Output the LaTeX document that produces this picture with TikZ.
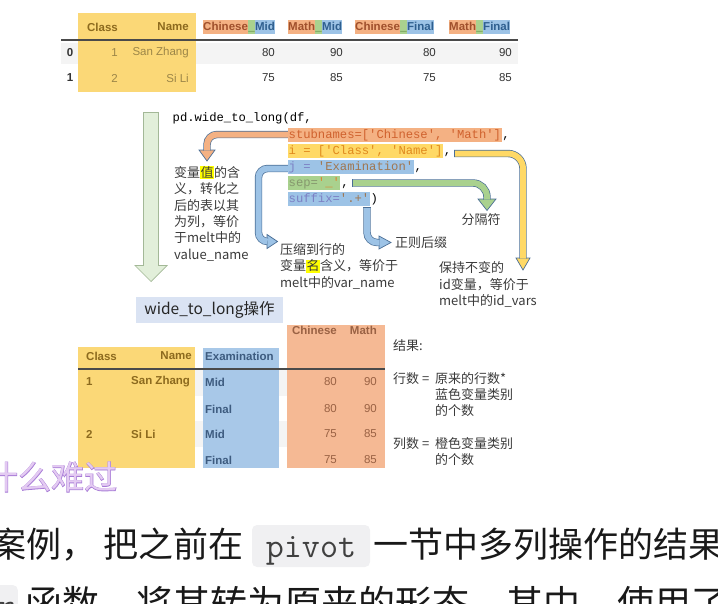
\documentclass[tikz,border=0pt]{standalone}
\usepackage{fontspec}
\setmainfont{Liberation Sans}
\setmonofont{Liberation Mono}
\newfontfamily\cjk{Noto Sans CJK SC}
\newfontfamily\cjkstroke{Noto Sans CJK SC}[FakeBold=2.5]
\usetikzlibrary{positioning}

\definecolor{hlorange}{HTML}{F4B183}
\definecolor{hlyellow}{HTML}{FFD966}
\definecolor{hlblue}{HTML}{9DC3E6}
\definecolor{hlgreen}{HTML}{A9D18E}
\definecolor{arrowline}{HTML}{4A6E96}
\definecolor{biggreen}{HTML}{E2EFDA}
\definecolor{biggreenline}{HTML}{A3B897}
\definecolor{celltext}{HTML}{333333}
\definecolor{rowgray}{HTML}{F4F4F4}
\definecolor{headline}{HTML}{4A4A4A}
\definecolor{opbox}{HTML}{DAE3F3}
\definecolor{marker}{HTML}{FFFF00}
\definecolor{notegray}{HTML}{3A3A3A}
\definecolor{tabyellow}{HTML}{FBD877}
\definecolor{tabblue}{HTML}{A8C8E8}
\definecolor{taborange}{HTML}{F5B994}
\definecolor{ontyellow}{HTML}{8C6A1E}
\definecolor{ontyellowlt}{HTML}{9C8648}
\definecolor{ontblue}{HTML}{3E5C80}
\definecolor{ontorange}{HTML}{9A6244}
\definecolor{segorange}{HTML}{A0502C}
\definecolor{seggreen}{HTML}{4E7A34}
\definecolor{segblue}{HTML}{2F5F8F}
\definecolor{stubtext}{HTML}{D0622E}
\definecolor{itext}{HTML}{E08A1E}
\definecolor{jkey}{HTML}{7C80C4}
\definecolor{jstr}{HTML}{A07650}
\definecolor{sepkey}{HTML}{86986E}
\definecolor{sepstr}{HTML}{DE8430}
\definecolor{wordart}{HTML}{E4CBF2}
\definecolor{wordartline}{HTML}{A77BD6}
\definecolor{codebg}{HTML}{F0F0F2}

\newcommand{\marked}[1]{{\setlength{\fboxsep}{0.5pt}\colorbox{marker}{#1}}}

\begin{document}
\begin{tikzpicture}[x=1pt, y=-1pt,
  cell/.style={font=\fontsize{11.5}{13}\selectfont, inner sep=0pt, text=celltext},
  headcell/.style={cell, font=\bfseries\fontsize{11.5}{13}\selectfont},
  seg/.style={headcell, inner xsep=0pt, inner ysep=1pt, text height=8.6pt, text depth=2.6pt, anchor=west},
  code/.style={font=\ttfamily\fontsize{12.2}{14}\selectfont, inner xsep=0.5pt, inner ysep=1pt,
    text height=9pt, text depth=3pt, anchor=west},
  note/.style={font=\cjk\fontsize{13}{16.3}\selectfont, align=left, inner sep=0pt, text=notegray},
  shaft/.style={draw=arrowline, line width=0.7pt, double=#1, double distance=6pt},
  head/.style={fill=#1, draw=arrowline, line width=0.7pt},
  para/.style={font=\cjk\fontsize{35}{40}\selectfont, inner sep=0pt, text=black!90},
  inline/.style={fill=codebg, rounded corners=5pt, inner ysep=0pt, text height=32pt, text depth=10pt,
    font=\fontfamily{lmtt}\selectfont\fontsize{35}{38}\selectfont, text=black!75}]

\useasboundingbox (0,0) rectangle (718,603);
\clip (0,0) rectangle (718,603);

% wide table
\fill[rowgray] (61,43) rectangle (518,64);
\fill[tabyellow] (78,13) rectangle (196,92);
\draw[line width=1.3pt, headline] (61,40) -- (518,40);

\node[headcell, text=ontyellow, anchor=east] (wclass) at (118,27) {Class};
\node[headcell, text=ontyellow, anchor=east] (wname) at (189,27) {Name};

\node[seg, fill=hlorange, text=segorange] (cmA) at (203,27) {Chinese};
\node[seg, fill=hlgreen, text=seggreen] (cmB) at (cmA.east) {\_};
\node[seg, fill=hlblue, text=segblue] (cmC) at (cmB.east) {Mid};

\node[seg, fill=hlorange, text=segorange] (mmA) at (288,27) {Math};
\node[seg, fill=hlgreen, text=seggreen] (mmB) at (mmA.east) {\_};
\node[seg, fill=hlblue, text=segblue] (mmC) at (mmB.east) {Mid};

\node[seg, fill=hlorange, text=segorange] (cfA) at (355,27) {Chinese};
\node[seg, fill=hlgreen, text=seggreen] (cfB) at (cfA.east) {\_};
\node[seg, fill=hlblue, text=segblue] (cfC) at (cfB.east) {Final};

\node[seg, fill=hlorange, text=segorange] (mfA) at (449,27) {Math};
\node[seg, fill=hlgreen, text=seggreen] (mfB) at (mfA.east) {\_};
\node[seg, fill=hlblue, text=segblue] (mfC) at (mfB.east) {Final};

\node[headcell] (idx0) at (70,53) {0};
\node[headcell] (idx1) at (70,78) {1};
\node[cell, text=ontyellowlt, anchor=east] (cls0) at (118,53) {1};
\node[cell, text=ontyellowlt, anchor=east] (cls1) at (118,78) {2};
\node[cell, text=ontyellowlt, anchor=east] (nam0) at (189,53) {San Zhang};
\node[cell, text=ontyellowlt, anchor=east] (nam1) at (189,78) {Si Li};
\foreach \col/\a/\b in {275/80/75, 343/90/85, 436/80/75, 512/90/85} {
  \node[cell, anchor=east] (w0\col) at (\col,53) {\a};
  \node[cell, anchor=east] (w1\col) at (\col,78) {\b};
}

% block arrows
\filldraw[head=biggreen, draw=biggreenline] (135,265.5) -- (151,281.5) -- (167,265.5) -- cycle;
\draw[shaft=biggreen, draw=biggreenline, double distance=14pt] (151,112) -- (151,266);
\draw[biggreenline, line width=0.7pt] (143.3,112) -- (158.7,112);

\filldraw[head=hlorange] (199,150) -- (207,161) -- (215,150) -- cycle;
\draw[shaft=hlorange, rounded corners=10pt] (288,134.5) -- (207,134.5) -- (207,150.5);

\filldraw[head=hlyellow] (516,258) -- (523,270) -- (530,258) -- cycle;
\draw[shaft=hlyellow, rounded corners=15pt] (454,153.5) -- (523,153.5) -- (523,258.5);
\draw[arrowline, line width=0.7pt] (454,149.8) -- (454,157.2);

\filldraw[head=hlblue] (267,234.5) -- (277.5,241.5) -- (267,248.5) -- cycle;
\draw[shaft=hlblue, rounded corners=9pt] (288,168.5) -- (258.5,168.5) -- (258.5,241.5) -- (267.5,241.5);

\filldraw[head=hlgreen] (478,199) -- (487,210.5) -- (496,199) -- cycle;
\draw[shaft=hlgreen, rounded corners=14pt] (352,183) -- (487,183) -- (487,199.5);
\draw[arrowline, line width=0.7pt] (352,179.3) -- (352,186.7);

\filldraw[head=hlblue] (379,236) -- (391,242.5) -- (379,249) -- cycle;
\draw[shaft=hlblue, rounded corners=10pt] (367,207) -- (367,242.5) -- (379.5,242.5);
\draw[arrowline, line width=0.7pt] (363.3,207) -- (370.7,207);

% call
\node[code] (call) at (172,118) {pd.wide\_to\_long(df,};
\node[code, fill=hlorange] (stub) at (288,135) {\textcolor{stubtext}{stubnames=['Chinese', 'Math']}};
\node[code] (stubc) at (stub.east) {,};
\node[code, fill=hlyellow] (ids) at (288,151) {\textcolor{itext}{i = ['Class', 'Name']}};
\node[code] (idsc) at (ids.east) {,};
\node[code, fill=hlblue] (jcol) at (288,167) {\textcolor{jkey}{j = }\textcolor{jstr}{'Examination'}};
\node[code] (jcolc) at (jcol.east) {,};
\node[code, fill=hlgreen] (sep) at (288,183) {\textcolor{sepkey}{sep=}\textcolor{sepstr}{'\_'}};
\node[code] (sepc) at (sep.east) {,};
\node[code, fill=hlblue] (suf) at (288,199) {\textcolor{jkey}{suffix=}\textcolor{jstr}{'.+'}};
\node[code] (sufc) at (suf.east) {)};

% notes
\node[note, anchor=north west] (valuenote) at (174,166)
  {变量\marked{值}的含\\义，转化之\\后的表以其\\为列，等价\\于melt中的\\value\_name};
\node[note, anchor=north west] (varnote) at (280,243.5)
  {压缩到行的\\变量\marked{名}含义，等价于\\melt中的var\_name};
\node[note, anchor=west] (sufnote) at (395,243) {正则后缀};
\node[note] (sepnote) at (481,220) {分隔符};
\node[note, anchor=north west] (idnote) at (439,261.5)
  {保持不变的\\id变量，等价于\\melt中的id\_vars};

\node[fill=opbox, minimum width=147pt, minimum height=26pt, inner sep=0pt,
  font=\cjk\fontsize{15.5}{17}\selectfont, text=black!85] (op) at (209.5,310) {wide\_to\_long操作};

% long table
\fill[rowgray] (78,370) rectangle (385,396);
\fill[rowgray] (78,421) rectangle (385,447);
\fill[tabyellow] (78,347) rectangle (195,468);
\fill[tabblue] (203,348) rectangle (279,468);
\fill[taborange] (287,325) rectangle (385,468);
\draw[line width=1.2pt, headline] (78,369) -- (385,369);

\node[headcell, text=ontyellow, anchor=west] (lclass) at (86,356) {Class};
\node[headcell, text=ontyellow, anchor=east] (lname) at (192,356) {Name};
\node[headcell, text=ontblue, anchor=west] (lexam) at (205,356) {Examination};
\node[headcell, text=ontorange, anchor=east] (lchi) at (337,330) {Chinese};
\node[headcell, text=ontorange, anchor=east] (lmath) at (377,330) {Math};

\node[headcell, text=ontyellow, anchor=west] (lc1) at (86,382) {1};
\node[headcell, text=ontyellow, anchor=west] (ln1) at (131,382) {San Zhang};
\node[headcell, text=ontyellow, anchor=west] (lc2) at (86,434) {2};
\node[headcell, text=ontyellow, anchor=west] (ln2) at (131,434) {Si Li};
\foreach \y/\ex/\c/\m in {382/Mid/80/90, 409/Final/80/90, 434/Mid/75/85, 460/Final/75/85} {
  \node[headcell, text=ontblue, anchor=west] (le\y) at (205,\y) {\ex};
  \node[cell, text=ontorange, anchor=east] (lv\y) at (337,\y) {\c};
  \node[cell, text=ontorange, anchor=east] (lm\y) at (377,\y) {\m};
}

% result notes
\node[note, anchor=west] (res) at (393,346) {结果:};
\node[note, anchor=west] (rowsA) at (393,379) {行数 =};
\node[note, anchor=north west] (rowsB) at (435,372) {原来的行数*\\蓝色变量类别\\的个数};
\node[note, anchor=west] (colsA) at (393,444) {列数 =};
\node[note, anchor=north west] (colsB) at (435,437) {橙色变量类别\\的个数};

% page text below
\node[font=\cjkstroke\fontsize{33}{35}\selectfont, text=wordartline, anchor=west, inner sep=0pt] (hardline)
  at (-15,477) {什么难过};
\node[font=\cjk\fontsize{33}{35}\selectfont, text=wordart, anchor=west, inner sep=0pt] (hard) at (-15,477) {什么难过};

\node[para, anchor=base west] (pA) at (-9,557) {案例，};
\node[para, anchor=base west] (pB) at (103,557) {把之前在};
\node[inline, anchor=base, minimum width=118pt, inner xsep=0pt] (pivot) at (311,557) {pivot};
\node[para, anchor=base west] (pC) at (373,557) {一节中多列操作的结果};

\node[inline, anchor=base east, inner xsep=3pt] (melt) at (18,617) {r};
\node[para, font=\cjk\fontsize{37}{40}\selectfont, anchor=base west] (pD) at (25,617) {函数，将其转为原来的形态，其中，使用了};

\end{tikzpicture}
\end{document}
